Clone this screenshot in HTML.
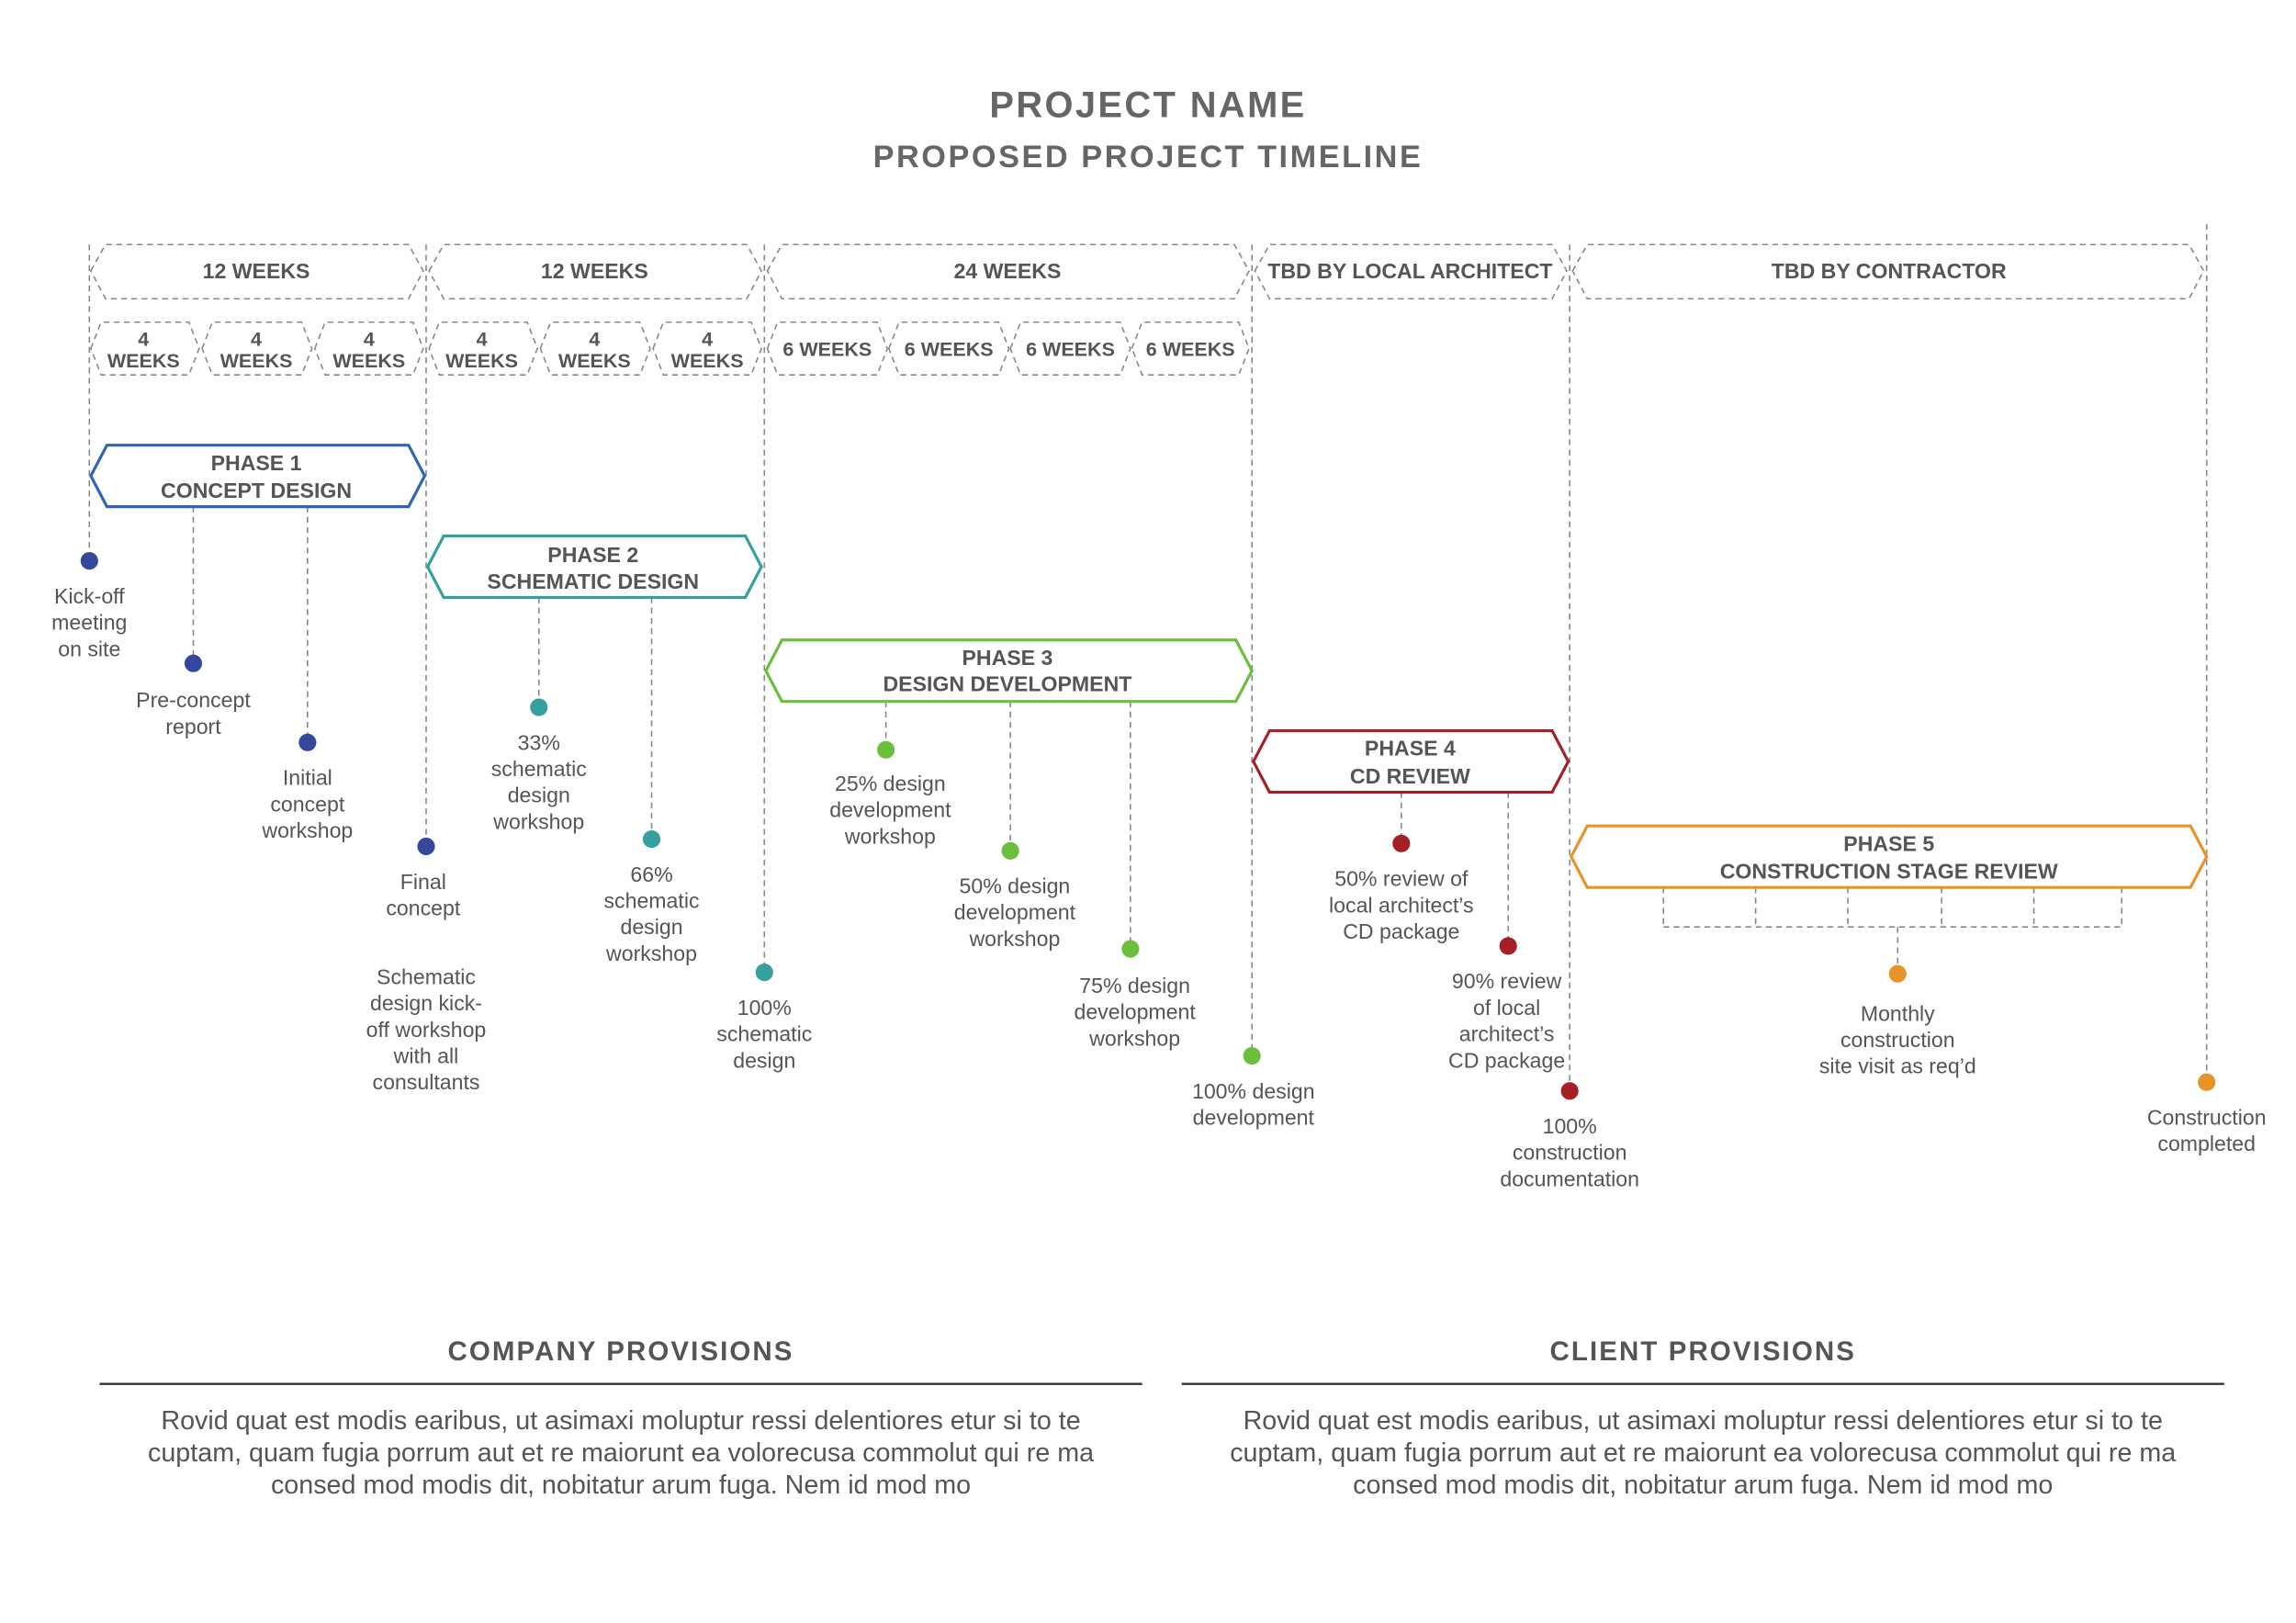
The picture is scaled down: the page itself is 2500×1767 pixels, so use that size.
<!DOCTYPE html>
<html><head><meta charset="utf-8"><style>
html,body{margin:0;padding:0;background:#fff;}
svg{display:block;}
text{font-family:"Liberation Sans",sans-serif;fill:#555;}
.t{font-size:14.5px;text-anchor:middle;}
.h{font-size:14.5px;font-weight:bold;text-anchor:middle;fill:#555;}
.w{font-size:13.5px;font-weight:bold;text-anchor:middle;fill:#555;}
.d{fill:none;stroke:#888;stroke-width:1;stroke-dasharray:4 3;}
.p{fill:#fff;stroke-width:2;}
</style></head><body>
<svg width="2500" height="1767" viewBox="0 0 1568 1108.3" xmlns="http://www.w3.org/2000/svg">
<text x="784" y="80" style="font-size:25px;font-weight:bold;text-anchor:middle;letter-spacing:1.5px;fill:#666">PROJECT NAME</text>
<text x="784" y="114" style="font-size:21.5px;font-weight:bold;text-anchor:middle;letter-spacing:1.6px;fill:#666">PROPOSED PROJECT TIMELINE</text>

<line class="d" x1="61" y1="167" x2="61" y2="383"/>
<line class="d" x1="291" y1="167" x2="291" y2="578"/>
<line class="d" x1="522" y1="167" x2="522" y2="664"/>
<line class="d" x1="855" y1="167" x2="855" y2="721"/>
<line class="d" x1="1072" y1="167" x2="1072" y2="745"/>
<line class="d" x1="1507" y1="153" x2="1507" y2="739"/>

<g class="d">
<path d="M62 185 L72 167 L279 167 L289 185 L279 204 L72 204 Z"/>
<path d="M293 185 L303 167 L510 167 L520 185 L510 204 L303 204 Z"/>
<path d="M524 185 L534 167 L843 167 L853 185 L843 204 L534 204 Z"/>
<path d="M857 185 L867 167 L1060 167 L1070 185 L1060 204 L867 204 Z"/>
<path d="M1074 185 L1084 167 L1495 167 L1505 185 L1495 204 L1084 204 Z"/>
<path d="M62 238 L69 220 L129 220 L136 238 L129 256 L69 256 Z"/>
<path d="M138 238 L145 220 L206 220 L213 238 L206 256 L145 256 Z"/>
<path d="M215 238 L222 220 L282 220 L289 238 L282 256 L222 256 Z"/>
<path d="M293 238 L300 220 L360 220 L367 238 L360 256 L300 256 Z"/>
<path d="M369 238 L376 220 L437 220 L444 238 L437 256 L376 256 Z"/>
<path d="M446 238 L453 220 L513 220 L520 238 L513 256 L453 256 Z"/>
<path d="M524 238 L531 220 L599 220 L606 238 L599 256 L531 256 Z"/>
<path d="M607 238 L614 220 L682 220 L689 238 L682 256 L614 256 Z"/>
<path d="M690 238 L697 220 L765 220 L772 238 L765 256 L697 256 Z"/>
<path d="M773 238 L780 220 L846 220 L853 238 L846 256 L780 256 Z"/>
</g>
<text class="h" x="175" y="190">12 WEEKS</text>
<text class="h" x="406" y="190">12 WEEKS</text>
<text class="h" x="688" y="190">24 WEEKS</text>
<text class="h" x="963" y="190">TBD BY LOCAL ARCHITECT</text>
<text class="h" x="1290" y="190">TBD BY CONTRACTOR</text>
<g class="w">
<text x="98" y="236">4</text><text x="98" y="251">WEEKS</text>
<text x="175" y="236">4</text><text x="175" y="251">WEEKS</text>
<text x="252" y="236">4</text><text x="252" y="251">WEEKS</text>
<text x="329" y="236">4</text><text x="329" y="251">WEEKS</text>
<text x="406" y="236">4</text><text x="406" y="251">WEEKS</text>
<text x="483" y="236">4</text><text x="483" y="251">WEEKS</text>
<text x="565" y="243">6 WEEKS</text>
<text x="648" y="243">6 WEEKS</text>
<text x="731" y="243">6 WEEKS</text>
<text x="813" y="243">6 WEEKS</text>
</g>

<g class="d">
<line x1="132" y1="346" x2="132" y2="453"/>
<line x1="210" y1="346" x2="210" y2="507"/>
<line x1="368" y1="408" x2="368" y2="483"/>
<line x1="445" y1="408" x2="445" y2="573"/>
<line x1="605" y1="479" x2="605" y2="512"/>
<line x1="690" y1="479" x2="690" y2="581"/>
<line x1="772" y1="479" x2="772" y2="648"/>
<line x1="957" y1="541" x2="957" y2="576"/>
<line x1="1030" y1="541" x2="1030" y2="646"/>
<path d="M1136 606 V633 M1199 606 V633 M1262 606 V633 M1326 606 V633 M1389 606 V633 M1449 606 V633 M1136 633 H1449 M1296 633 V665"/>
</g>

<path class="p" stroke="#2e66b5" d="M62 325 L73 304 L279 304 L290 325 L279 346 L73 346 Z"/>
<text class="h" x="175" y="321">PHASE 1</text><text class="h" x="175" y="340">CONCEPT DESIGN</text>
<path class="p" stroke="#36a09c" d="M292 387 L303 366 L509 366 L520 387 L509 408 L303 408 Z"/>
<text class="h" x="405" y="384">PHASE 2</text><text class="h" x="405" y="402">SCHEMATIC DESIGN</text>
<path class="p" stroke="#6abf3e" d="M523 458 L534 437 L844 437 L855 458 L844 479 L534 479 Z"/>
<text class="h" x="688" y="454">PHASE 3</text><text class="h" x="688" y="472">DESIGN DEVELOPMENT</text>
<path class="p" stroke="#a51f24" d="M856 520 L867 499 L1060 499 L1071 520 L1060 541 L867 541 Z"/>
<text class="h" x="963" y="516">PHASE 4</text><text class="h" x="963" y="535">CD REVIEW</text>
<path class="p" stroke="#e8922a" d="M1073 585 L1084 564 L1496 564 L1507 585 L1496 606 L1084 606 Z"/>
<text class="h" x="1290" y="581">PHASE 5</text><text class="h" x="1290" y="600">CONSTRUCTION STAGE REVIEW</text>

<g fill="#34499b"><circle cx="61" cy="383" r="6"/><circle cx="132" cy="453" r="6"/><circle cx="210" cy="507" r="6"/><circle cx="291" cy="578" r="6"/></g>
<g fill="#36a09c"><circle cx="368" cy="483" r="6"/><circle cx="445" cy="573" r="6"/><circle cx="522" cy="664" r="6"/></g>
<g fill="#6abf3e"><circle cx="605" cy="512" r="6"/><circle cx="690" cy="581" r="6"/><circle cx="772" cy="648" r="6"/><circle cx="855" cy="721" r="6"/></g>
<g fill="#a51f24"><circle cx="957" cy="576" r="6"/><circle cx="1030" cy="646" r="6"/><circle cx="1072" cy="745" r="6"/></g>
<g fill="#e8922a"><circle cx="1296" cy="665" r="6"/><circle cx="1507" cy="739" r="6"/></g>

<g class="t">
<text x="61" y="412">Kick-off</text><text x="61" y="430">meeting</text><text x="61" y="448">on site</text>
<text x="132" y="483">Pre-concept</text><text x="132" y="501">report</text>
<text x="210" y="536">Initial</text><text x="210" y="554">concept</text><text x="210" y="572">workshop</text>
<text x="289" y="607">Final</text><text x="289" y="625">concept</text>
<text x="291" y="672">Schematic</text><text x="291" y="690">design kick-</text><text x="291" y="708">off workshop</text><text x="291" y="726">with all</text><text x="291" y="744">consultants</text>
<text x="368" y="512">33%</text><text x="368" y="530">schematic</text><text x="368" y="548">design</text><text x="368" y="566">workshop</text>
<text x="445" y="602">66%</text><text x="445" y="620">schematic</text><text x="445" y="638">design</text><text x="445" y="656">workshop</text>
<text x="522" y="693">100%</text><text x="522" y="711">schematic</text><text x="522" y="729">design</text>
<text x="608" y="540">25% design</text><text x="608" y="558">development</text><text x="608" y="576">workshop</text>
<text x="693" y="610">50% design</text><text x="693" y="628">development</text><text x="693" y="646">workshop</text>
<text x="775" y="678">75% design</text><text x="775" y="696">development</text><text x="775" y="714">workshop</text>
<text x="856" y="750">100% design</text><text x="856" y="768">development</text>
<text x="957" y="605">50% review of</text><text x="957" y="623">local architect’s</text><text x="957" y="641">CD package</text>
<text x="1029" y="675">90% review</text><text x="1029" y="693">of local</text><text x="1029" y="711">architect’s</text><text x="1029" y="729">CD package</text>
<text x="1072" y="774">100%</text><text x="1072" y="792">construction</text><text x="1072" y="810">documentation</text>
<text x="1296" y="697">Monthly</text><text x="1296" y="715">construction</text><text x="1296" y="733">site visit as req’d</text>
<text x="1507" y="768">Construction</text><text x="1507" y="786">completed</text>
</g>

<text x="424" y="929" style="font-size:18.5px;font-weight:bold;text-anchor:middle;letter-spacing:1.3px;fill:#555">COMPANY PROVISIONS</text>
<line x1="68" y1="945" x2="780" y2="945" stroke="#333" stroke-width="1.5"/>
<text x="1163" y="929" style="font-size:18.5px;font-weight:bold;text-anchor:middle;letter-spacing:1.3px;fill:#555">CLIENT PROVISIONS</text>
<line x1="807" y1="945" x2="1519" y2="945" stroke="#333" stroke-width="1.5"/>
<g style="font-size:18px;text-anchor:middle">
<text x="424" y="976">Rovid quat est modis earibus, ut asimaxi moluptur ressi delentiores etur si to te</text>
<text x="424" y="998">cuptam, quam fugia porrum aut et re maiorunt ea volorecusa commolut qui re ma</text>
<text x="424" y="1020">consed mod modis dit, nobitatur arum fuga. Nem id mod mo</text>
<text x="1163" y="976">Rovid quat est modis earibus, ut asimaxi moluptur ressi delentiores etur si to te</text>
<text x="1163" y="998">cuptam, quam fugia porrum aut et re maiorunt ea volorecusa commolut qui re ma</text>
<text x="1163" y="1020">consed mod modis dit, nobitatur arum fuga. Nem id mod mo</text>
</g>
</svg>
</body></html>
